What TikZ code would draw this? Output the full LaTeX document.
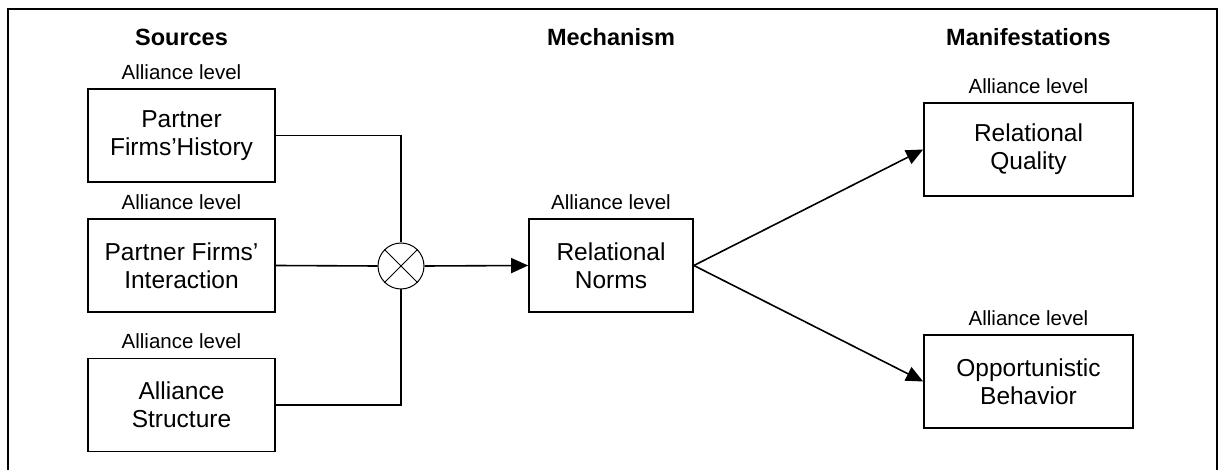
\documentclass[tikz,border=0pt]{standalone}
\usepackage{fontspec}
\setmainfont{Liberation Sans}
\usetikzlibrary{arrows.meta}
\begin{document}
\begin{tikzpicture}[x=1pt,y=-1pt,
  box/.style={draw, line width=1.7pt, minimum height=93pt, inner sep=0pt, align=center,
              font=\fontsize{24.5}{28.2}\selectfont},
  lvl/.style={anchor=base, inner sep=0pt, font=\fontsize{20.5}{24}\selectfont},
  head/.style={anchor=base, inner sep=0pt, font=\fontsize{23.5}{27}\selectfont\bfseries},
  conn/.style={line width=1.6pt},
  arr/.style={conn, -{Triangle[length=17pt,width=15pt]}},
  mult/.style={circle, draw, line width=1pt, minimum size=46pt, inner sep=0pt}
]
\useasboundingbox (0,0) rectangle (1219,470);
% open frame around the diagram
\draw[line width=1.6pt] (8,471) -- (8,9) -- (1217,9) -- (1217,471);

% column headings
\node[head] (hsrc) at (181.5,46) {Sources};
\node[head] (hmech) at (611,46) {Mechanism};
\node[head] (hman) at (1028.5,46) {Manifestations};

% sources
\node[box, minimum width=187pt] (hist) at (181.5,135.5) {Partner\\Firms’History};
\node[box, minimum width=187pt] (inter) at (181.5,265.5) {Partner Firms’\\Interaction};
\node[box, minimum width=187pt] (struct) at (181.5,405) {Alliance\\Structure};

% mechanism
\node[box, minimum width=164pt] (norms) at (611,265.5) {Relational\\Norms};

% manifestations
\node[box, minimum width=209pt] (qual) at (1028.5,149.5) {Relational\\Quality};
\node[box, minimum width=209pt] (opp) at (1028.5,381.5) {Opportunistic\\Behavior};

% level labels
\foreach \b/\n in {hist/l1, inter/l2, struct/l3, norms/l4, qual/l5, opp/l6}
  \node[lvl] (\n) at ([yshift=9pt]\b.north) {Alliance level};

% combining operator
\node[mult] (mx) at (401,266) {};
\draw[line width=0.8pt] (mx.north west) -- (mx.south east);
\draw[line width=0.8pt] (mx.north east) -- (mx.south west);

% connectors
\draw[conn] (hist.east) -| (mx.north);
\draw[conn] (inter.east) -- (mx.west);
\draw[conn] (struct.east) -| (mx.south);
\draw[arr] (mx.east) -- (norms.west);
\draw[arr] (norms.east) -- (qual.west);
\draw[arr] (norms.east) -- (opp.west);
\end{tikzpicture}
\end{document}
